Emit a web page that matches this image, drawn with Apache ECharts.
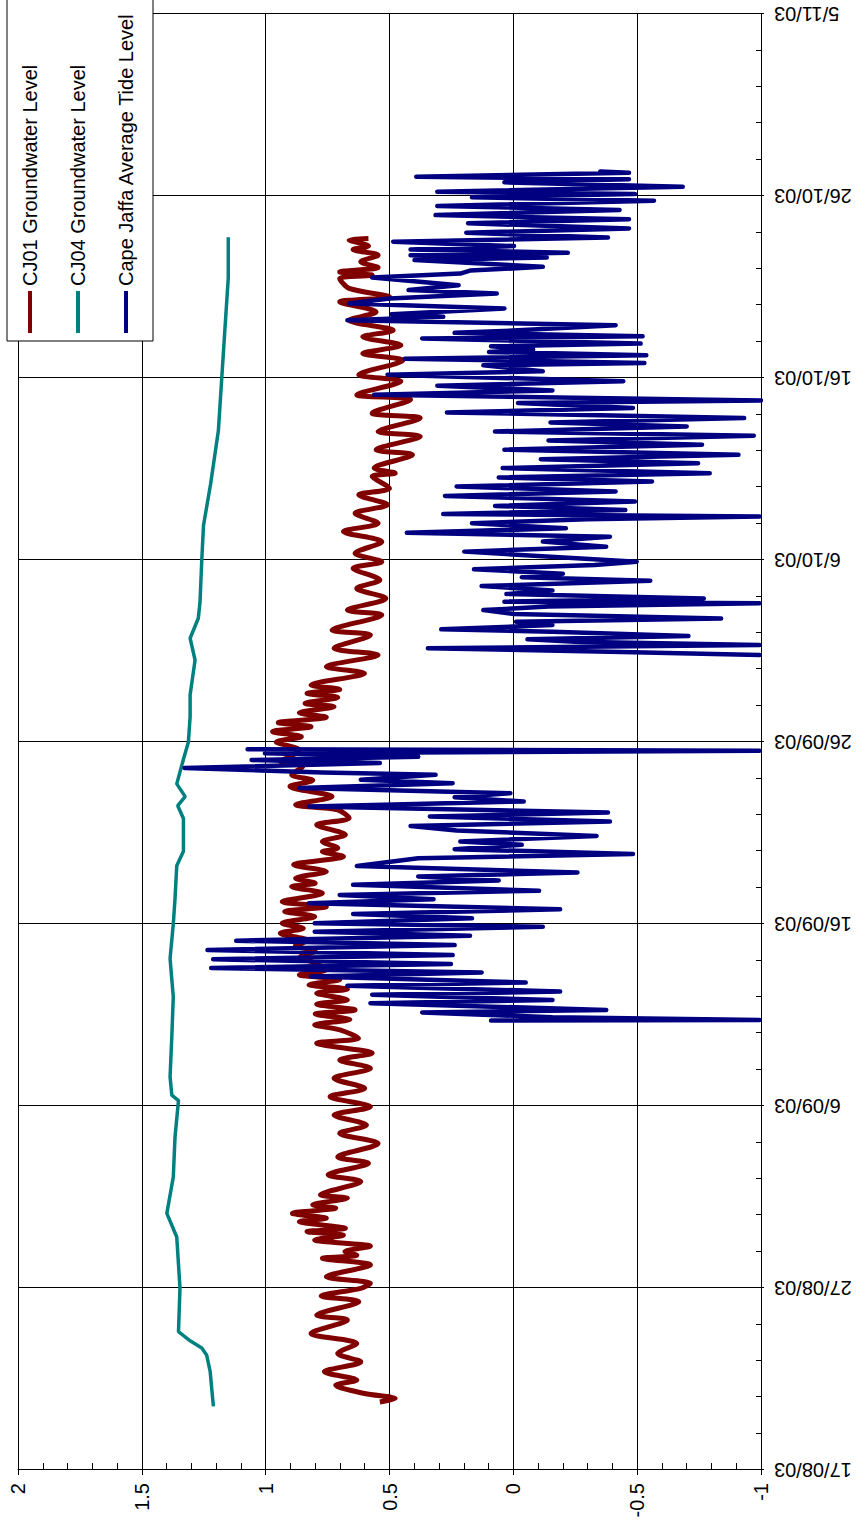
<!DOCTYPE html>
<html>
<head>
<meta charset="utf-8">
<script src="https://cdn.jsdelivr.net/npm/echarts@6/dist/echarts.min.js"></script>
<style>
html,body{margin:0;padding:0;background:#fff;overflow:hidden;width:858px;height:1528px;}
#wrap{position:absolute;left:0;top:0;width:1528px;height:858px;transform-origin:0 0;transform:translateY(1528px) rotate(-90deg);}
#chart{width:1528px;height:858px;}
</style>
</head>
<body>
<div id="wrap"><div id="chart"></div></div>
<script>
// Days after 17/08/03, value (m)
const dateLabels = ['17/08/03','27/08/03','6/09/03','16/09/03','26/09/03','6/10/03','16/10/03','26/10/03','5/11/03'];
const seriesNames = ['CJ01 Groundwater Level','CJ04 Groundwater Level','Cape Jaffa Average Tide Level'];

const cj01 = [[3.74,0.539],[3.93,0.477],[4.2,0.60],[4.66,0.717],[4.94,0.632],[5.4,0.763],[5.94,0.616],[6.4,0.709],[6.95,0.632],[7.5,0.817],[8.24,0.670],[8.51,0.794],[9.25,0.624],[9.56,0.776],[9.98,0.616],[10.26,0.577],[10.62,0.755],[11.27,0.577],[11.63,0.771],[11.8,0.632],[12.0,0.68],[12.3,0.577],[12.64,0.802],[12.9,0.686],[13.1,0.833],[13.28,0.678],[13.65,0.864],[13.83,0.755],[14.1,0.892],[14.39,0.717],[14.57,0.81],[14.94,0.670],[15.12,0.779],[15.85,0.616],[16.22,0.748],[16.86,0.585],
[17.2,0.709],[17.94,0.546],[18.5,0.701],[18.95,0.593],[19.5,0.724],[19.96,0.577],[20.51,0.740],[20.97,0.60],[21.52,0.724],[22.07,0.577],[22.53,0.701],[22.9,0.57],[23.45,0.794],[23.72,0.625],[24.18,0.70],[24.46,0.802],[24.75,0.66],[25.05,0.80],[25.28,0.639],[25.6,0.794],[25.83,0.67],[26.2,0.794],[26.42,0.67],[26.66,0.825],[26.94,0.701],[27.21,0.864],[27.49,0.755],[27.85,0.80],
[28.2,0.86],[28.5,0.80],[28.8,0.88],[29.1,0.83],[29.49,0.941],[29.76,0.848],[30.04,0.933],[30.4,0.802],[30.68,0.923],[30.95,0.755],[31.23,0.933],[31.69,0.771],[32.06,0.895],[32.24,0.80],[32.51,0.879],[32.88,0.755],[33.25,0.887],[33.71,0.686],[33.98,0.771],[34.17,0.709],[34.53,0.771],[34.9,0.678],[35.45,0.794],[35.82,0.663],[36.28,0.71],[36.55,0.879],[37.0,0.732],[37.56,0.902],[37.9,0.81],[38.2,0.895],[38.66,0.85],[38.94,0.941],
[39.2,0.90],[39.56,0.864],[40.0,0.957],[40.29,0.856],[40.57,0.972],[40.84,0.817],[41.06,0.949],[41.36,0.755],[41.61,0.864],[41.94,0.724],[42.12,0.841],[42.45,0.709],[42.67,0.833],[42.89,0.701],[43.13,0.817],[43.77,0.601],[44.14,0.755],[44.78,0.546],[45.15,0.724],[45.88,0.577],[46.15,0.732],[46.98,0.531],[47.25,0.670],[47.89,0.515],[48.44,0.632],[48.9,0.539],[49.54,0.647],[49.9,0.531],
[50.37,0.639],[51.0,0.531],[51.56,0.686],[52.02,0.546],[52.57,0.639],[53.03,0.508],[53.58,0.624],[53.94,0.50],[54.59,0.570],[54.77,0.477],[55.05,0.562],[55.78,0.407],[56.06,0.554],[56.79,0.376],[57.06,0.546],[57.8,0.376],[58.07,0.570],[58.81,0.415],[59.08,0.632],[59.82,0.454],[60.18,0.624],
[60.97,0.446],[61.34,0.608],[61.80,0.454],[62.26,0.608],[62.62,0.485],[63.17,0.663],[63.63,0.554],[64.18,0.701],[64.46,0.5],[64.92,0.663],[65.47,0.701],[65.65,0.570],[65.83,0.701],[66.07,0.546],[66.39,0.616],[66.75,0.546],[67.06,0.647],[67.25,0.585],[67.58,0.663],[67.67,0.585]];

const cj04 = [[3.5,1.211],[4.5,1.218],[5.4,1.224],[6.3,1.238],[6.7,1.258],[7.1,1.305],[7.6,1.352],[10,1.346],[12.8,1.359],[14.1,1.399],[16.1,1.373],[18.3,1.366],[20.3,1.352],[20.6,1.379],[21.6,1.386],[23.8,1.379],[26.0,1.373],[28.1,1.386],[30,1.373],[31.4,1.366],[33.2,1.359],[34.0,1.332],[35.8,1.332],[36.5,1.355],[37.0,1.325],[37.7,1.359],[39.05,1.332],[40.0,1.312],[41.4,1.305],[42.6,1.305],[44.5,1.285],[45.7,1.305],[46.8,1.272],[47.7,1.265],[50.0,1.258],[51.9,1.251],[54.2,1.222],[57.1,1.191],[60.06,1.177],[62.8,1.164],[65.5,1.151],[67.73,1.151]];

const tide = [[24.70,0.090],[24.73,-0.994],[24.88,-0.158],[25.14,0.368],[25.28,-0.375],[25.65,0.577],[25.83,-0.158],[26.11,0.570],[26.29,-0.189],[26.61,0.670],[26.79,-0.050],[27.12,0.817],[27.34,0.128],[27.58,1.220],
[27.8,0.252],[28.06,1.212],[28.29,0.245],[28.57,1.235],[28.84,0.237],[29.08,1.119],[29.36,0.175],[29.58,0.802],[29.85,-0.119],[30.04,0.802],[30.31,0.167],[30.55,0.647],[30.81,-0.189],[31.14,0.825],[31.36,0.322],[31.6,0.701],[31.83,-0.104],[32.15,0.647],[32.39,0.059],[32.61,0.384],[32.83,-0.259],[33.19,0.632],[33.61,0.384],[33.85,-0.483],[34.11,0.237],[34.35,-0.034],[34.53,0.214],[34.84,-0.336],[35.14,0.229],[35.39,0.415],[35.63,-0.39],[35.91,0.337],[36.13,-0.382],[36.46,0.825],[36.73,-0.042],[36.97,0.237],[37.19,0.012],[37.47,0.864],[37.74,0.245],[37.93,0.616],[38.2,0.314],[38.33,0.771],[38.57,1.328],[38.84,0.539],[39.01,1.057],[39.19,0.384],[39.38,1.003],[39.52,-0.994],[39.6,1.073],
[42.0,'-'],
[44.78,-0.994],[44.96,-0.39],[45.15,0.345],[45.33,-0.994],[45.51,-0.251],[45.64,-0.057],[45.82,-0.707],[46.06,-0.158],[46.19,0.291],[46.43,-0.158],[46.61,-0.011],[46.79,-0.839],[47.03,-0.003],[47.25,0.121],[47.44,-0.142],[47.62,-0.994],[47.71,0.036],[47.89,-0.769],[48.13,0.028],[48.32,-0.158],[48.57,0.128],[48.86,-0.553],[49.05,-0.034],[49.25,-0.2],[49.49,0.159],[49.73,-0.328],[49.91,-0.498],
[50.46,0.198],[50.73,-0.375],[51.01,-0.119],[51.28,-0.39],[51.5,0.430],[51.74,-0.212],[52.02,0.167],[52.24,-0.297],[52.39,-0.994],[52.53,0.283],[52.75,-0.452],[52.97,0.074],[53.21,-0.491],[53.52,0.276],[53.76,-0.413],[54.04,0.229],[54.31,-0.560],[54.53,0.059],[54.77,-0.793],[55.05,0.043],[55.32,-0.746],[55.54,-0.111],[55.78,-0.909],[56.06,0.036],[56.33,-0.762],[56.57,-0.142],[56.83,-0.971],[57.06,0.074],[57.34,-0.700],[57.56,-0.150],[57.8,-0.932],[58.11,0.268],[58.35,-0.483],[58.62,-0.019],[58.77,-1.0],[59.08,0.562],[59.32,-0.158],[59.58,0.307],[59.82,-0.444],[60.18,0.508],[60.37,-0.119],
[60.70,0.121],[60.83,-0.529],[61.06,0.438],[61.25,-0.537],[61.43,0.098],[61.56,-0.080],[61.74,0.090],[61.89,-0.514],[62.17,0.368],[62.29,-0.522],[62.48,0.237],[62.62,-0.019],[62.9,-0.413],[63.17,0.670],[63.36,0.283],[63.5,0.492],[63.82,0.036],[64.09,0.663],[64.37,0.5],[64.64,0.067],[64.83,0.423],[65.1,0.221],[65.52,0.570],[65.74,0.214],[65.9,0.175],[66.11,-0.119],[66.48,0.399],[66.62,-0.135],[66.75,0.415],[66.88,-0.220],[67.06,0.415],[67.25,-0.003],[67.49,0.485],[67.72,-0.382],[67.98,0.190],[68.22,-0.467],[68.5,0.183],[68.72,-0.467],[68.95,0.314],[69.23,-0.429],[69.45,0.307],[69.74,-0.568],[69.93,0.167],[70.11,-0.491],[70.24,0.307],[70.51,-0.684],[70.75,0.036],[70.92,-0.467],[71.06,0.392],[71.28,-0.467],[71.34,-0.351]];

const FONT = 'Liberation Sans, Arial, Helvetica, sans-serif';
const chart = echarts.init(document.getElementById('chart'), null, {renderer:'svg', width:1528, height:858});
const axisBase = {type:'value', gridIndex:0};
chart.setOption({
  animation:false,
  backgroundColor:'#fff',
  grid:{left:58, right:14, top:18, bottom:97, outerBoundsMode:'none', containLabel:false},
  legend:{
    orient:'vertical', left:1187, top:7, padding:[13,80,17,8], itemGap:28,
    itemWidth:42, itemHeight:4, icon:'rect', backgroundColor:'#fff',
    borderColor:'#000', borderWidth:1, borderRadius:0,
    textStyle:{fontSize:20, fontFamily:FONT, color:'#000'},
    data:seriesNames
  },
  xAxis:[
    Object.assign({}, axisBase, {min:0, max:80, interval:10, position:'bottom',
      axisLine:{show:true, onZero:false, lineStyle:{color:'#000', width:1}},
      axisTick:{show:true, inside:false, length:3, lineStyle:{color:'#000', width:1}},
      splitLine:{show:true, lineStyle:{color:'#000', width:1}},
      axisLabel:{rotate:90, margin:13, fontSize:20, fontFamily:FONT, color:'#000',
        formatter:function(v){return dateLabels[Math.round(v/10)];}}}),
    Object.assign({}, axisBase, {min:0, max:80, interval:10, position:'bottom',
      axisLine:{show:false, onZero:false}, axisTick:{show:false, inside:true},
      minorTick:{show:true, splitNumber:5, length:5, lineStyle:{color:'#000', width:1}},
      splitLine:{show:false}, axisLabel:{show:false}})
  ],
  yAxis:[
    Object.assign({}, axisBase, {min:-1, max:2, interval:0.5, position:'left',
      axisLine:{show:true, onZero:false, lineStyle:{color:'#000', width:1}},
      axisTick:{show:true, inside:false, length:5, lineStyle:{color:'#000', width:1}},
      splitLine:{show:true, lineStyle:{color:'#000', width:1}},
      axisLabel:{margin:13, fontSize:20, fontFamily:FONT, color:'#000'}}),
    Object.assign({}, axisBase, {min:-1, max:2, interval:0.5, position:'left',
      axisLine:{show:false, onZero:false}, axisTick:{show:false, inside:true},
      minorTick:{show:true, splitNumber:5, length:7, lineStyle:{color:'#000', width:1}},
      splitLine:{show:false}, axisLabel:{show:false}})
  ],
  series:[
    {name:seriesNames[0], type:'line', data:cj01, symbol:'none', smooth:0.3,
      lineStyle:{color:'#800000', width:5}, itemStyle:{color:'#800000'}},
    {name:seriesNames[1], type:'line', data:cj04, symbol:'none',
      lineStyle:{color:'#008080', width:3.5}, itemStyle:{color:'#008080'}},
    {name:seriesNames[2], type:'line', data:tide, symbol:'none', connectNulls:false,
      lineStyle:{color:'#000080', width:4.5, join:'round', cap:'round'}, itemStyle:{color:'#000080'}}
  ]
});
</script>
</body>
</html>
